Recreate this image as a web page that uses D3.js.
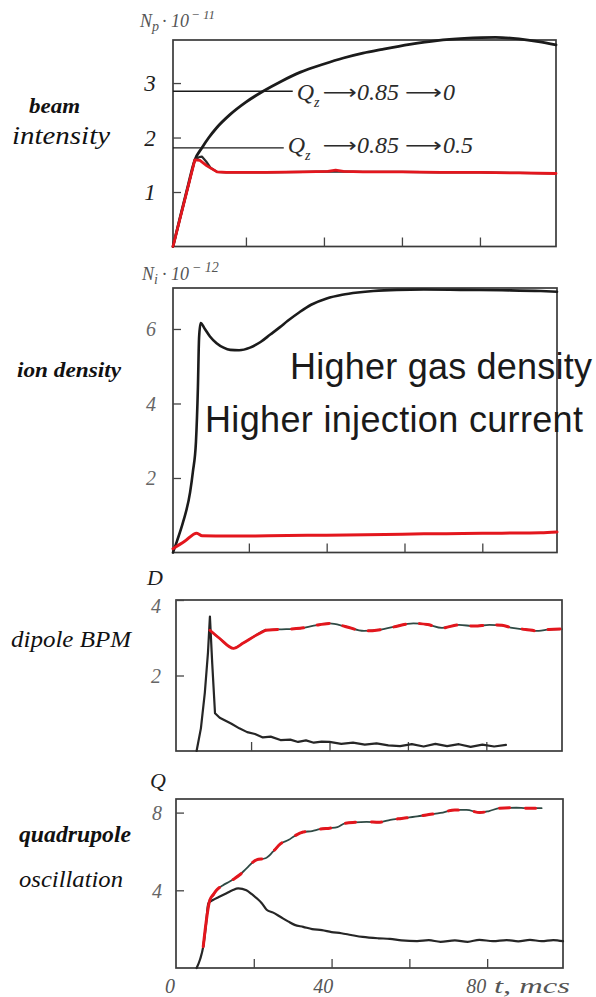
<!DOCTYPE html>
<html><head><meta charset="utf-8">
<script src="https://cdn.jsdelivr.net/npm/d3@7"></script>
<style>html,body{margin:0;padding:0;background:#fff;}svg{display:block;}</style>
</head><body>
<svg id="chart" width="596" height="997"></svg>
<script>
// ---------- DATA ----------
const xTicks = [20, 40, 60, 80];
const xLabelVals = [0, 40, 80];
const xUnit = "t, mcs";

// Panel 1: beam intensity (Np * 1e-11)
const p1YTicks = [1, 2, 3];
const p1T_top = [1.3, 3, 5, 6.9, 8.7, 10.5, 12.5, 15.9, 20, 24.4, 29, 34, 40, 45, 50, 55, 62, 69, 76, 84, 90, 95, 99.5];
const p1V_top = [0, 0.5, 1.07, 1.59, 1.81, 2.0, 2.18, 2.42, 2.65, 2.85, 3.03, 3.2, 3.35, 3.46, 3.55, 3.62, 3.71, 3.78, 3.82, 3.84, 3.81, 3.76, 3.70];
const p1T_low = [1.3, 6.9, 8.0, 8.7, 9.8, 11, 12.6, 15, 25, 35, 43, 50, 60, 70, 80, 90, 99.5];
const p1V_low = [0, 1.59, 1.64, 1.65, 1.56, 1.44, 1.37, 1.36, 1.36, 1.37, 1.38, 1.37, 1.37, 1.36, 1.36, 1.35, 1.34];
const p1T_red = [1.3, 6.9, 8.2, 10, 12.6, 15, 25, 35, 41, 43, 45, 50, 60, 70, 80, 90, 99.5];
const p1V_red = [0, 1.59, 1.58, 1.48, 1.37, 1.36, 1.36, 1.37, 1.38, 1.4, 1.38, 1.37, 1.37, 1.36, 1.36, 1.35, 1.34];
const annotLevels = [2.85, 1.81];
const annotEnds = [32, 29.7];
const annotFinal = ["0", "0.5"];

// Panel 2: ion density (Ni * 1e-12)
const p2YTicks = [2, 4, 6];
const p2T_top = [0.5, 1.5, 3.1, 4.9, 5.6, 6.4, 6.9, 7.2, 7.6, 8.7, 10, 11.7, 13.5, 15.2, 17.5, 20.3, 23, 25.5, 28, 30, 33, 36, 40, 44, 48, 52, 58, 65, 75, 85, 95, 99.2];
const p2V_top = [0, 0.3, 0.82, 1.62, 2.16, 2.97, 4.42, 5.76, 6.16, 6.0, 5.8, 5.62, 5.5, 5.44, 5.43, 5.5, 5.65, 5.85, 6.05, 6.22, 6.45, 6.65, 6.82, 6.92, 6.98, 7.02, 7.05, 7.06, 7.05, 7.04, 7.02, 7.0];
const p2T_red = [0.5, 3.5, 6.6, 8, 15, 25, 35, 45, 55, 65, 75, 85, 95, 99.2];
const p2V_red = [0.1, 0.3, 0.52, 0.45, 0.44, 0.45, 0.46, 0.47, 0.48, 0.5, 0.51, 0.52, 0.53, 0.55];

// Panel 3: dipole BPM (D)
const p3YTicks = [2, 4];
const p3T_low = [6.1, 7.2, 8.2, 9.0, 9.5, 10.1, 10.8, 12, 13.5, 15, 17, 19, 21, 23, 25, 27.5, 30, 32, 34, 36, 38, 40, 43, 46, 49, 52, 55, 58, 61, 64, 67, 70, 73, 76, 79, 82, 85];
const p3V_low = [0, 0.6, 1.54, 2.6, 3.56, 2.3, 1.0, 0.88, 0.8, 0.72, 0.6, 0.5, 0.45, 0.36, 0.38, 0.29, 0.3, 0.24, 0.28, 0.22, 0.25, 0.24, 0.19, 0.22, 0.17, 0.2, 0.15, 0.13, 0.18, 0.12, 0.19, 0.13, 0.18, 0.11, 0.17, 0.12, 0.16];
const p3T_up = [9.5, 12, 15.5, 18, 21, 23.7, 27, 32.5, 36, 40, 44, 48.8, 52, 56, 61.4, 65, 68.7, 73, 77, 80.8, 84, 86.6, 90, 93.4, 96, 99.3];
const p3V_up = [3.2, 2.98, 2.72, 2.86, 3.05, 3.2, 3.22, 3.25, 3.32, 3.38, 3.3, 3.18, 3.2, 3.28, 3.38, 3.35, 3.26, 3.34, 3.31, 3.34, 3.33, 3.26, 3.22, 3.18, 3.22, 3.23];

// Panel 4: quadrupole oscillation (Q)
const p4YTicks = [4, 8];
const p4T_low = [5.3, 6.2, 7.0, 7.7, 8.3, 9.5, 11, 13, 14.5, 16, 18.1, 19.5, 20.7, 22, 23.3, 25, 26.7, 28.8, 30.5, 32.7, 35, 37.5, 40, 42.5, 45, 48, 52, 55, 58, 62, 65, 68, 71.7, 75, 78, 81.5, 85, 88, 91, 94, 97, 99.5];
const p4V_low = [0, 0.45, 1.1, 2.2, 3.33, 3.5, 3.65, 3.85, 4.0, 4.1, 4.0, 3.8, 3.6, 3.35, 3.0, 2.85, 2.65, 2.4, 2.22, 2.12, 2.0, 1.95, 1.85, 1.79, 1.7, 1.6, 1.53, 1.5, 1.42, 1.38, 1.43, 1.35, 1.42, 1.35, 1.45, 1.38, 1.44, 1.37, 1.45, 1.38, 1.44, 1.38];
const p4T_up = [7.0, 8.7, 9.5, 10.4, 12, 13.8, 15, 16.4, 18, 20.7, 23, 25, 26.9, 29, 30.5, 32.7, 35, 37, 39.5, 41.5, 43.4, 46, 49, 52.2, 55.1, 58, 62, 65, 68, 71.7, 74.7, 78.1, 80.5, 83.2, 87.5, 90, 94];
const p4V_up = [1.1, 3.5, 3.75, 4.0, 4.25, 4.45, 4.6, 4.8, 5.1, 5.57, 5.65, 6.0, 6.4, 6.6, 6.8, 7.0, 7.05, 7.15, 7.2, 7.25, 7.45, 7.5, 7.52, 7.5, 7.63, 7.7, 7.8, 7.9, 7.98, 8.14, 8.14, 8.0, 8.08, 8.23, 8.25, 8.23, 8.23];

// ---------- DRAW ----------
const svg = d3.select("#chart");
svg.append("rect").attr("width", 596).attr("height", 997).attr("fill", "#fff");
const serif = "'Liberation Serif','Times New Roman',serif";
const sans = "'Liberation Sans',Arial,sans-serif";
const zip = (T, V) => T.map((t, i) => [t, V[i]]);

function makePanel(f) {
  const x = d3.scaleLinear().domain(f.tDom).range([f.left, f.right]);
  const y = d3.scaleLinear().domain(f.vDom).range([f.bottom, f.top]);
  const g = svg.append("g");
  g.append("rect").attr("x", f.left).attr("y", f.top)
    .attr("width", f.right - f.left).attr("height", f.bottom - f.top)
    .attr("fill", "none").attr("stroke", "#3a3a3a").attr("stroke-width", 1.7);
  const yg = g.append("g").attr("transform", `translate(${f.left},0)`)
    .call(d3.axisLeft(y).tickValues(f.yTicks).tickSize(-8).tickPadding(f.pad).tickFormat(d3.format("d")));
  yg.select(".domain").remove();
  yg.attr("font-family", null).attr("font-size", null);
  yg.selectAll("line").attr("stroke", "#444").attr("stroke-width", 1.3);
  yg.selectAll("text").attr("font-family", serif).attr("font-style", "italic")
    .attr("font-size", f.fs).attr("fill", f.tc).attr("text-anchor", "middle")
    .attr("dy", d => (f.shift && f.shift[d]) ? f.shift[d] : "0.34em");
  const xg = g.append("g").attr("transform", `translate(0,${f.bottom})`)
    .call(d3.axisBottom(x).tickValues(xTicks).tickSize(-9).tickFormat(""));
  xg.select(".domain").remove();
  xg.selectAll("line").attr("stroke", "#444").attr("stroke-width", 1.3);
  return { x, y, g };
}

function drawLine(p, data, color, width, curve, dash) {
  const line = d3.line().x(d => p.x(d[0])).y(d => p.y(d[1])).curve(curve || d3.curveMonotoneX);
  const path = p.g.append("path").datum(data).attr("d", line)
    .attr("fill", "none").attr("stroke", color).attr("stroke-width", width)
    .attr("stroke-linejoin", "round").attr("stroke-linecap", "round");
  if (dash) path.attr("stroke-dasharray", dash);
  return path;
}

const RED = "#e3161d";

// ---- Panel 1 ----
const P1 = makePanel({ left: 173, right: 556, top: 40, bottom: 246.5, tDom: [1.3, 99.5], vDom: [0, 3.79],
  yTicks: p1YTicks, pad: 23, fs: 23, tc: "#1e1e1e" });
drawLine(P1, zip(p1T_top, p1V_top), "#1b1b1b", 2.8);
drawLine(P1, zip(p1T_low, p1V_low), "#2a2a2a", 2.2, d3.curveLinear);
drawLine(P1, zip(p1T_red, p1V_red), RED, 2.8, d3.curveLinear);
annotLevels.forEach((lv, i) => {
  P1.g.append("line").attr("x1", P1.x(1.3)).attr("x2", P1.x(annotEnds[i]))
    .attr("y1", P1.y(lv)).attr("y2", P1.y(lv)).attr("stroke", "#1a1a1a").attr("stroke-width", 1.4);
  const base = P1.y(lv) + (i === 0 ? 9 : 5);
  const xs = P1.x(annotEnds[i]) + 4;
  const t = P1.g.append("text").attr("x", xs).attr("y", base)
    .attr("font-family", serif).attr("font-style", "italic").attr("font-size", 24).attr("fill", "#2b2b2b");
  t.append("tspan").text("Q");
  t.append("tspan").attr("font-size", 14).attr("dy", 7).text("z");
  const a1 = P1.x(annotEnds[i]) + (i === 0 ? 30 : 39);
  P1.g.append("text").attr("x", a1).attr("y", base - 1).attr("font-family", "'DejaVu Sans'").attr("font-size", 20)
    .attr("fill", "#2b2b2b").attr("textLength", 34).attr("lengthAdjust", "spacingAndGlyphs").text("⟶");
  P1.g.append("text").attr("x", 357).attr("y", base).attr("font-family", serif).attr("font-style", "italic")
    .attr("font-size", 24).attr("fill", "#2b2b2b").text("0.85");
  P1.g.append("text").attr("x", 405).attr("y", base - 1).attr("font-family", "'DejaVu Sans'").attr("font-size", 20)
    .attr("fill", "#2b2b2b").attr("textLength", 37).attr("lengthAdjust", "spacingAndGlyphs").text("⟶");
  P1.g.append("text").attr("x", 443).attr("y", base).attr("font-family", serif).attr("font-style", "italic")
    .attr("font-size", 24).attr("fill", "#2b2b2b").text(annotFinal[i]);
});
(function () {
  const t = svg.append("text").attr("x", 140).attr("y", 27).attr("font-family", serif).attr("font-style", "italic")
    .attr("font-size", 18).attr("fill", "#555");
  t.append("tspan").text("N");
  t.append("tspan").attr("font-size", 14).attr("dy", 4).text("p");
  t.append("tspan").attr("dy", -4).attr("dx", 3).text("· 10");
  t.append("tspan").attr("font-size", 13).attr("dy", -8).attr("dx", 2).text("− 11");
})();

// ---- Panel 2 ----
const P2 = makePanel({ left: 173, right: 557, top: 288, bottom: 552.5, tDom: [0.5, 99.2], vDom: [0, 7.1],
  yTicks: p2YTicks, pad: 22, fs: 20, tc: "#666" });
drawLine(P2, zip(p2T_top, p2V_top), "#1b1b1b", 2.6);
drawLine(P2, zip(p2T_red, p2V_red), RED, 3);
(function () {
  const t = svg.append("text").attr("x", 142).attr("y", 280).attr("font-family", serif).attr("font-style", "italic")
    .attr("font-size", 18).attr("fill", "#555");
  t.append("tspan").text("N");
  t.append("tspan").attr("font-size", 14).attr("dy", 4).text("i");
  t.append("tspan").attr("dy", -4).attr("dx", 4).text("· 10");
  t.append("tspan").attr("font-size", 14).attr("dy", -8).attr("dx", 3).text("− 12");
})();

// ---- Panel 3 ----
const P3 = makePanel({ left: 176, right: 562, top: 600, bottom: 751, tDom: [0.85, 99.3], vDom: [0, 4],
  yTicks: p3YTicks, pad: 20, fs: 20, tc: "#666", shift: { 4: "0.62em" } });
drawLine(P3, zip(p3T_low, p3V_low), "#262626", 2.2, d3.curveLinear);
const p3up = zip(p3T_up, p3V_up);
drawLine(P3, p3up, "#2f4a44", 1.8);
drawLine(P3, p3up.slice(0, 6), RED, 2.8);
drawLine(P3, p3up.slice(5), RED, 3, d3.curveMonotoneX, "12 14");
svg.append("text").attr("x", 147).attr("y", 585).attr("font-family", serif).attr("font-style", "italic")
  .attr("font-size", 22).attr("fill", "#1e1e1e").text("D");

// ---- Panel 4 ----
const P4 = makePanel({ left: 176, right: 563, top: 799, bottom: 968, tDom: [0, 99.5], vDom: [0, 8.7],
  yTicks: p4YTicks, pad: 19, fs: 20, tc: "#666" });
drawLine(P4, zip(p4T_low, p4V_low), "#262626", 2.2);
const p4up = zip(p4T_up, p4V_up);
drawLine(P4, p4up, "#2f4a44", 1.8);
drawLine(P4, p4up.slice(0, 3), RED, 3);
drawLine(P4, p4up.slice(2), RED, 3, d3.curveMonotoneX, "10 16");
svg.append("text").attr("x", 150).attr("y", 788).attr("font-family", serif).attr("font-style", "italic")
  .attr("font-size", 22).attr("fill", "#1e1e1e").text("Q");
svg.selectAll(".xlab").data(xLabelVals).enter().append("text").attr("class", "xlab")
  .attr("x", d => P4.x(d) - 6 - d * 0.06).attr("y", 993).attr("text-anchor", "middle")
  .attr("font-family", serif).attr("font-style", "italic").attr("font-size", 20).attr("fill", "#555")
  .text(d => d);
svg.append("text").attr("x", 494).attr("y", 993).attr("font-family", serif).attr("font-style", "italic")
  .attr("font-size", 21).attr("fill", "#555").attr("textLength", 76).attr("lengthAdjust", "spacingAndGlyphs").text(xUnit);

// ---- Left row labels ----
const rowLabels = [
  { text: "beam", x: 29, y: 113, size: 22, weight: "bold", len: 51 },
  { text: "intensity", x: 12, y: 144, size: 26, weight: "normal", len: 98 },
  { text: "ion density", x: 17, y: 377, size: 22, weight: "bold", len: 104 },
  { text: "dipole BPM", x: 11, y: 647, size: 23, weight: "normal", len: 120 },
  { text: "quadrupole", x: 19, y: 842, size: 23, weight: "bold", len: 112 },
  { text: "oscillation", x: 19, y: 887, size: 23, weight: "normal", len: 104 }
];
svg.selectAll(".row").data(rowLabels).enter().append("text").attr("class", "row")
  .attr("x", d => d.x).attr("y", d => d.y).attr("font-family", serif).attr("font-style", "italic")
  .attr("font-weight", d => d.weight).attr("font-size", d => d.size).attr("fill", "#111")
  .attr("textLength", d => d.len).attr("lengthAdjust", "spacingAndGlyphs").text(d => d.text);

// ---- Overlay annotations ----
svg.append("text").attr("x", 290).attr("y", 379).attr("font-family", sans).attr("font-size", 36)
  .attr("fill", "#1a1a1a").attr("textLength", 302).text("Higher gas density");
svg.append("text").attr("x", 205).attr("y", 432).attr("font-family", sans).attr("font-size", 36)
  .attr("fill", "#1a1a1a").attr("textLength", 378).text("Higher injection current");
</script>
</body></html>
